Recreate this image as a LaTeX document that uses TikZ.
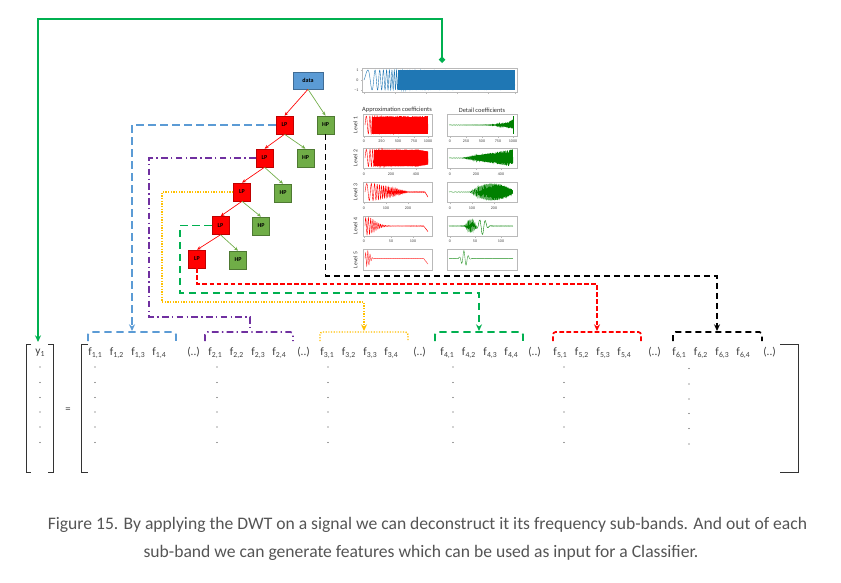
\documentclass[tikz,border=0pt]{standalone}
\usepackage{fontspec}
\setmainfont{Carlito}
\usetikzlibrary{arrows.meta}
\definecolor{cblue}{HTML}{5B9BD5}
\definecolor{cpurple}{HTML}{7030A0}
\definecolor{cyellow}{HTML}{FFC000}
\definecolor{cgreen}{HTML}{00B050}
\definecolor{plotblue}{HTML}{1F77B4}
\definecolor{plotgreen}{HTML}{008000}
\definecolor{lpred}{HTML}{FF0000}
\definecolor{hpgreen}{HTML}{70AD47}
\definecolor{txtgray}{HTML}{404040}
\definecolor{capgray}{HTML}{555555}
\newcommand\fsb[1]{f\kern0.2pt\raisebox{-1.8pt}{\fontsize{5.8}{6}\selectfont #1}}
\begin{document}
\begin{tikzpicture}[x=0.75pt,y=-0.75pt,
  declare function={cyc(\q)=sin(360*mod(\q,1)); gs(\q)=exp(-min(9,\q*\q));},
  treebox/.style={draw, line width=0.4pt, minimum width=12.75pt, minimum height=13.5pt, inner sep=0pt, font=\bfseries\fontsize{4.5}{5}\selectfont},
  lpbox/.style={treebox, fill=lpred, draw=lpred!75!black},
  hpbox/.style={treebox, fill=hpgreen, draw=hpgreen!70!black},
  databox/.style={treebox, fill=cblue, draw=cblue!70!black, minimum width=22.5pt, minimum height=12.75pt},
  redarr/.style={draw=lpred, line width=0.5pt, -{Stealth[length=3pt,width=2.5pt]}},
  grnarr/.style={draw=hpgreen, line width=0.5pt, -{Stealth[length=3pt,width=2.5pt]}},
  conn/.style={line width=1.3pt},
  bluec/.style={conn, draw=cblue, dash pattern=on 5.5pt off 3.5pt},
  purpc/.style={conn, draw=cpurple, dash pattern=on 5pt off 2.5pt on 1pt off 2.5pt},
  yelc/.style={conn, draw=cyellow, line width=1.1pt, dash pattern=on 0.9pt off 1.1pt},
  grnc/.style={conn, draw=cgreen, dash pattern=on 5.5pt off 3.5pt},
  redc/.style={conn, draw=lpred, dash pattern=on 3.5pt off 1.8pt},
  blkc/.style={conn, draw=black, dash pattern=on 4.5pt off 3pt},
  tipc/.style={-{Stealth[length=5pt,width=4.5pt]}},
  brk/.style={rounded corners=2pt},
  pframe/.style={draw=gray!55, line width=0.35pt},
  tlab/.style={font=\fontsize{3}{3.2}\selectfont, text=black!75, inner sep=0pt},
  lvl/.style={font=\fontsize{4.3}{4.5}\selectfont, text=black!80, inner sep=0pt, rotate=90},
  hdr/.style={font=\fontsize{4.8}{5}\selectfont, text=black!80, inner sep=0pt},
  flab/.style={anchor=base west, inner sep=0pt, font=\fontsize{8.5}{9}\selectfont, text=txtgray},
  matline/.style={draw=black!80, line width=0.75pt},
  captext/.style={font=\fontsize{13.2}{15}\selectfont, text=capgray, inner sep=0pt}
]
\useasboundingbox (0,0) rectangle (841,582);
\fill[white] (0,0) rectangle (841,582);

% ---------- tree ----------
\node[databox] (data) at (308,80.5) {data};
\node[lpbox] (lp1) at (284.5,125) {LP};
\node[hpbox] (hp1) at (325.5,125) {HP};
\node[lpbox] (lp2) at (264.5,158) {LP};
\node[hpbox] (hp2) at (305.5,158) {HP};
\node[lpbox] (lp3) at (242,192) {LP};
\node[hpbox] (hp3) at (283,193) {HP};
\node[lpbox] (lp4) at (220.5,225.5) {LP};
\node[hpbox] (hp4) at (261,226) {HP};
\node[lpbox] (lp5) at (197,259) {LP};
\node[hpbox] (hp5) at (238,260) {HP};
\draw[redarr] (data.south) -- (lp1.north);
\draw[grnarr] (data.south) -- (hp1.north);
\draw[redarr] (lp1.south) -- (lp2.north);
\draw[grnarr] (lp1.south) -- (hp2.north);
\draw[redarr] (lp2.south) -- (lp3.north);
\draw[grnarr] (lp2.south) -- (hp3.north);
\draw[redarr] (lp3.south) -- (lp4.north);
\draw[grnarr] (lp3.south) -- (hp4.north);
\draw[redarr] (lp4.south) -- (lp5.north);
\draw[grnarr] (lp4.south) -- (hp5.north);

% ---------- signal plots ----------
\draw[pframe] (362,68) rectangle (517,92);
\foreach \ya/\yb in {114/136,148/168,182/202,216/236,249/270} {
  \draw[pframe] (363,\ya) rectangle (432,\yb);
  \draw[pframe] (447,\ya) rectangle (517,\yb);
}
\foreach \tx in {364,395,426,457,488,515} \draw[pframe] (\tx,92) -- (\tx,93.5);
\foreach \ty in {70,80,90} \draw[pframe] (362,\ty) -- (360.5,\ty);
\node[tlab] (ty1) at (357.5,70) {1};
\node[tlab] (ty0) at (357.5,80) {0};
\node[tlab] (tym) at (356.5,90) {−1};

\node[hdr] (hA) at (397,110) {Approximation coefficients};
\node[hdr] (hD) at (482,110) {Detail coefficients};
\node[lvl] (lv1) at (355.5,125) {Level 1};
\node[lvl] (lv2) at (355.5,158) {Level 2};
\node[lvl] (lv3) at (355.5,192) {Level 3};
\node[lvl] (lv4) at (355.5,226) {Level 4};
\node[lvl] (lv5) at (355.5,260) {Level 5};

\foreach \n/\tx/\t in {a1/364/0,a2/381.5/250,a3/398/500,a4/414/750,a5/428/1000,d1/450/0,d2/466/250,d3/482/500,d4/498/750,d5/513/1000}
  {\draw[pframe] (\tx,136) -- (\tx,137.5); \node[tlab] (r1\n) at (\tx,141) {\t};}
\foreach \n/\tx/\t in {a1/364/0,a2/391/200,a3/416/400,d1/450/0,d2/476/200,d3/501/400}
  {\draw[pframe] (\tx,168) -- (\tx,169.5); \node[tlab] (r2\n) at (\tx,174) {\t};}
\foreach \n/\tx/\t in {a1/364/0,a2/386/100,a3/408/200,d1/450/0,d2/472/100,d3/494/200}
  {\draw[pframe] (\tx,202) -- (\tx,203.5); \node[tlab] (r3\n) at (\tx,208) {\t};}
\foreach \n/\tx/\t in {a1/364/0,a2/391/50,a3/413/100,d1/450/0,d2/475/50,d3/501/100}
  {\draw[pframe] (\tx,236) -- (\tx,237.5); \node[tlab] (r4\n) at (\tx,241) {\t};}

% dense fills behind the signals
\fill[plotblue] (398,70) rectangle (515,90);
\fill[lpred] (372,116.5) rectangle (428,133.5);
\fill[lpred] (374,150) -- (418,150) -- (428,151.5) -- (428,164.5) -- (418,166) -- (374,166) -- cycle;

\begin{scope}[line width=0.3pt]
\draw[plotblue] plot[domain=0:1,samples=900] ({364+151*\x},{80-10*cyc(150*\x*\x+6*\x)});
% approximation
\draw[lpred] plot[domain=0:1,samples=500] ({365+63*\x},{125-9*cyc(80*\x*\x+10*\x)});
\draw[lpred] plot[domain=0:1,samples=500] ({365+63*\x},{158-8.5*(\x<0.85?1:1-1.5*(\x-0.85))*cyc(70*\x*\x+10*\x)});
\draw[lpred] plot[domain=0:1,samples=400] ({365+63*\x},{192+(\x>0.95?100*(\x-0.95):0)-8.5*(\x<0.15?1:max(0.04,1-(\x-0.15)/0.55))*cyc(45*\x*\x+8*\x)});
\draw[lpred] plot[domain=0:1,samples=400] ({365+63*\x},{226+(\x>0.93?80*(\x-0.93):0)-8.5*(0.03+gs((\x-0.03)/0.17))*cyc(30*\x*\x+22*\x)});
\draw[lpred!80] plot[domain=0:1,samples=300] ({365+63*\x},{258.5+(\x>0.93?80*(\x-0.93):0)-8*(0.02+gs((\x-0.04)/0.05))*cyc(28*\x)});
% detail
\draw[plotgreen] plot[domain=0:1,samples=500] ({449+64*\x},{125-9*(0.02+0.6*\x^8)*cyc(80*\x*\x+10*\x)});
\draw[plotgreen, line width=0.7pt] (513,116) -- (513,134);
\draw[plotgreen] plot[domain=0:1,samples=500] ({449+64*\x},{158-8.5*(\x<0.2?0.02:0.02+(\x-0.2)/0.8)*cyc(80*\x*\x+10*\x)});
\draw[plotgreen] plot[domain=0:1,samples=400] ({449+64*\x},{192-8.5*max(0.03,1-((\x-0.68)/0.36)*((\x-0.68)/0.36))*cyc(45*\x*\x+8*\x)});
\draw[plotgreen] plot[domain=0:1,samples=400] ({449+64*\x},{226-8.5*(0.03*cyc(60*\x)+0.8*gs((\x-0.34)/0.07)*cyc(50*\x)+gs((\x-0.52)/0.07)*cyc(11*\x))});
\draw[plotgreen!80] plot[domain=0:1,samples=300] ({449+64*\x},{258.5-8*(0.02*cyc(40*\x)+gs((\x-0.24)/0.06)*cyc(14*\x))});
\end{scope}

% ---------- bracket targets ----------
\coordinate (b1) at (132,331);
\coordinate (b2) at (250,331);
\coordinate (b3) at (364,331);
\coordinate (b4) at (479,331);
\coordinate (b5) at (597,331);
\coordinate (b6) at (717,331);
\coordinate (sigtop) at (442,63);
\coordinate (gtop) at (442,19);
\coordinate (y1top) at (38,342);

% ---------- connectors ----------
\draw[bluec,tipc] (lp1.west) -| (b1);
\draw[purpc] (lp2.west) -| (149,317) -| (b2);
\draw[yelc,tipc] (lp3.west) -| (162,302) -| (b3);
\draw[grnc,tipc] (lp4.west) -| (180,293) -| (b4);
\draw[redc,tipc] (lp5.south) |- (597,284) -- (b5);
\draw[blkc,tipc] (hp1.south) |- (717,276) -- (b6);
\draw[cgreen, line width=1.4pt, {Diamond[length=5pt,width=5pt]}-{Stealth[length=5pt,width=4.5pt]}] (sigtop) -- (gtop) -| (y1top);

% ---------- sub-band brackets ----------
\draw[bluec,brk] (88,341) -- (88,332) -- (176,332) -- (176,341);
\draw[purpc,brk] (205,341) -- (205,332) -- (293,332) -- (293,341);
\draw[yelc,brk] (320,341) -- (320,332) -- (408,332) -- (408,341);
\draw[grnc,brk] (435,341) -- (435,332) -- (523,332) -- (523,341);
\draw[redc,brk] (553,341) -- (553,332) -- (641,332) -- (641,341);
\draw[blkc,brk] (673,341) -- (673,332) -- (762,332) -- (762,341);

% ---------- feature labels ----------
\foreach \g/\gx in {1/88,2/208,3/320,4/440,5/553,6/672} {
  \foreach \k/\dx in {1/0,2/21.5,3/43,4/64} {
    \node[flab] (f\g\k) at (\gx+\dx,355) {\fsb{\g,\k}};
  }
}
\foreach \i/\px in {1/187,2/297,3/413,4/528,5/648,6/763}
  \node[flab] (dd\i) at (\px,355) {(..)};

% ---------- matrices ----------
\draw[matline] (31,344) -- (26,344) -- (26,472) -- (31,472);
\draw[matline] (48,344) -- (53,344) -- (53,472) -- (48,472);
\draw[matline] (88,344) -- (81,344) -- (81,472) -- (88,472);
\draw[matline] (780,344) -- (798,344) -- (798,472) -- (780,472);
\node[inner sep=0pt, font=\fontsize{8.5}{9}\selectfont, text=txtgray] (y1) at (40,353) {y\raisebox{-1.8pt}{\fontsize{5.8}{6}\selectfont 1}};
\node[inner sep=0pt, font=\fontsize{8}{8}\selectfont, text=txtgray] (eq) at (68,410) {=};
\foreach \cx/\dy in {40/0,95/0,217/0,328/0,453/0,564/0,689/1.5}
  \foreach \yy in {367,382.5,397.5,412,427,442.5}
    \fill[txtgray] (\cx,\yy+\dy) circle[radius=0.5pt];

% ---------- caption ----------
\node[captext] (cap1) at (427.5,525) {Figure 15. By applying the DWT on a signal we can deconstruct it its frequency sub-bands. And out of each};
\node[captext] (cap2) at (421,553) {sub-band we can generate features which can be used as input for a Classifier.};
\end{tikzpicture}
\end{document}
